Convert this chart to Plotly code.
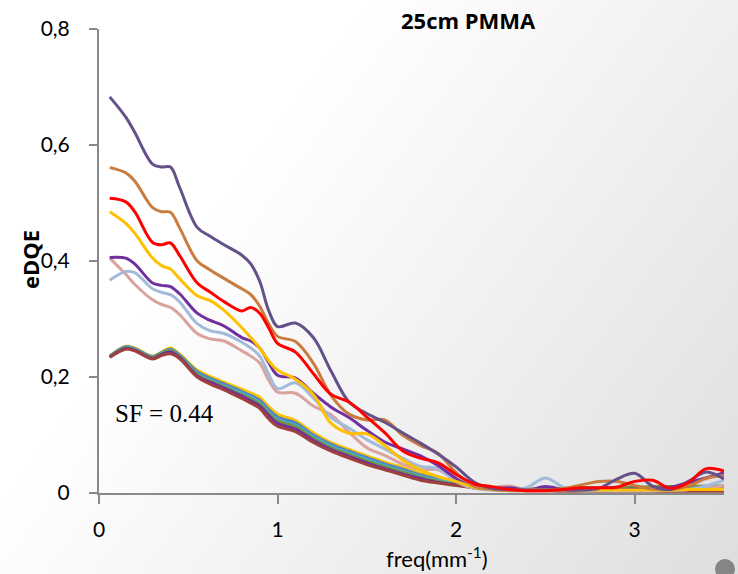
import base64
import plotly.graph_objects as go

# ---------------- data ----------------
freq = [0.06, 0.15, 0.2, 0.3, 0.35, 0.4, 0.45, 0.55, 0.62, 0.7, 0.8, 0.85, 0.9, 0.95,
        1.0, 1.1, 1.2, 1.3, 1.4, 1.5, 1.6, 1.7, 1.8, 1.9, 2.0, 2.1, 2.2, 2.3, 2.4, 2.5,
        2.6, 2.7, 2.8, 2.9, 3.0, 3.1, 3.2, 3.3, 3.4, 3.5]

# lower group (nearly identical curves)
low_yellow = [0.236, 0.253, 0.250, 0.236, 0.243, 0.250, 0.240, 0.212, 0.201, 0.191, 0.179, 0.172, 0.165, 0.149,
              0.136, 0.125, 0.104, 0.087, 0.075, 0.064, 0.053, 0.044, 0.034, 0.026, 0.019, 0.014, 0.010, 0.008,
              0.007, 0.006, 0.006, 0.006, 0.006, 0.006, 0.006, 0.006, 0.006, 0.006, 0.006, 0.006]
low_blue = [0.236, 0.252, 0.249, 0.235, 0.242, 0.248, 0.238, 0.209, 0.198, 0.188, 0.175, 0.168, 0.160, 0.144,
            0.131, 0.121, 0.100, 0.084, 0.072, 0.061, 0.050, 0.041, 0.031, 0.024, 0.017, 0.012, 0.009, 0.007,
            0.006, 0.006, 0.006, 0.006, 0.006, 0.006, 0.006, 0.006, 0.006, 0.006, 0.007, 0.007]
low_teal = [0.235, 0.251, 0.248, 0.234, 0.241, 0.246, 0.236, 0.206, 0.195, 0.185, 0.172, 0.165, 0.156, 0.140,
            0.127, 0.117, 0.097, 0.081, 0.069, 0.058, 0.047, 0.038, 0.029, 0.022, 0.016, 0.011, 0.008, 0.007,
            0.006, 0.006, 0.007, 0.007, 0.007, 0.008, 0.008, 0.008, 0.008, 0.008, 0.009, 0.009]
low_green = [0.235, 0.250, 0.247, 0.233, 0.240, 0.245, 0.235, 0.204, 0.193, 0.183, 0.169, 0.162, 0.153, 0.137,
             0.124, 0.114, 0.094, 0.078, 0.066, 0.055, 0.045, 0.036, 0.027, 0.020, 0.015, 0.010, 0.008, 0.007,
             0.007, 0.008, 0.008, 0.009, 0.009, 0.010, 0.010, 0.011, 0.011, 0.011, 0.012, 0.012]
low_purple = [0.234, 0.249, 0.246, 0.232, 0.239, 0.243, 0.234, 0.202, 0.191, 0.181, 0.167, 0.159, 0.150, 0.134,
              0.120, 0.110, 0.091, 0.075, 0.063, 0.052, 0.042, 0.033, 0.025, 0.018, 0.014, 0.009, 0.007, 0.006,
              0.005, 0.005, 0.005, 0.005, 0.005, 0.005, 0.005, 0.005, 0.005, 0.005, 0.005, 0.005]
low_darkred = [0.234, 0.248, 0.245, 0.231, 0.237, 0.240, 0.232, 0.200, 0.188, 0.178, 0.163, 0.155, 0.146, 0.128,
               0.115, 0.106, 0.087, 0.072, 0.060, 0.049, 0.040, 0.031, 0.022, 0.017, 0.013, 0.009, 0.007, 0.005,
               0.004, 0.004, 0.003, 0.003, 0.003, 0.003, 0.003, 0.003, 0.003, 0.003, 0.003, 0.003]

# upper group
up_pink = [0.405, 0.377, 0.360, 0.333, 0.325, 0.320, 0.308, 0.275, 0.266, 0.262, 0.245, 0.236, 0.224, 0.195,
           0.174, 0.172, 0.150, 0.135, 0.105, 0.078, 0.065, 0.050, 0.040, 0.040, 0.020, 0.008, 0.010, 0.012,
           0.005, 0.004, 0.004, 0.004, 0.004, 0.004, 0.004, 0.004, 0.005, 0.006, 0.009, 0.012]
up_lightblue = [0.367, 0.382, 0.380, 0.352, 0.346, 0.342, 0.330, 0.292, 0.280, 0.275, 0.260, 0.250, 0.236, 0.205,
                0.180, 0.190, 0.164, 0.130, 0.112, 0.092, 0.076, 0.060, 0.046, 0.042, 0.020, 0.008, 0.005, 0.005,
                0.010, 0.026, 0.010, 0.004, 0.004, 0.004, 0.004, 0.004, 0.005, 0.006, 0.012, 0.022]
up_purple = [0.406, 0.405, 0.395, 0.362, 0.358, 0.356, 0.344, 0.310, 0.298, 0.288, 0.268, 0.262, 0.250, 0.225,
             0.203, 0.198, 0.172, 0.148, 0.130, 0.108, 0.088, 0.076, 0.064, 0.047, 0.025, 0.010, 0.008, 0.009,
             0.005, 0.011, 0.006, 0.005, 0.006, 0.006, 0.007, 0.008, 0.010, 0.018, 0.026, 0.035]
up_yellow = [0.485, 0.465, 0.448, 0.405, 0.392, 0.386, 0.370, 0.340, 0.332, 0.315, 0.285, 0.268, 0.250, 0.228,
             0.212, 0.196, 0.170, 0.120, 0.103, 0.102, 0.082, 0.057, 0.040, 0.028, 0.020, 0.010, 0.006, 0.005,
             0.005, 0.005, 0.005, 0.005, 0.005, 0.005, 0.005, 0.005, 0.005, 0.006, 0.006, 0.006]
up_orange = [0.561, 0.552, 0.538, 0.492, 0.485, 0.484, 0.458, 0.400, 0.385, 0.370, 0.352, 0.342, 0.322, 0.292,
             0.270, 0.261, 0.224, 0.168, 0.136, 0.126, 0.126, 0.100, 0.082, 0.068, 0.035, 0.012, 0.006, 0.004,
             0.004, 0.005, 0.008, 0.014, 0.020, 0.020, 0.013, 0.007, 0.006, 0.012, 0.025, 0.030]
up_darkpurple = [0.683, 0.648, 0.622, 0.567, 0.562, 0.562, 0.528, 0.458, 0.443, 0.428, 0.410, 0.395, 0.365, 0.315,
                 0.287, 0.293, 0.268, 0.210, 0.157, 0.137, 0.122, 0.104, 0.086, 0.067, 0.045, 0.019, 0.008, 0.006,
                 0.005, 0.005, 0.005, 0.005, 0.008, 0.024, 0.034, 0.012, 0.006, 0.020, 0.036, 0.024]
up_red = [0.508, 0.502, 0.485, 0.432, 0.428, 0.431, 0.410, 0.362, 0.347, 0.330, 0.314, 0.320, 0.310, 0.285,
          0.258, 0.243, 0.206, 0.170, 0.157, 0.131, 0.104, 0.073, 0.060, 0.052, 0.032, 0.016, 0.011, 0.006,
          0.004, 0.004, 0.006, 0.009, 0.009, 0.010, 0.020, 0.022, 0.008, 0.018, 0.042, 0.038]

x_ticks = [0, 1, 2, 3]
y_ticks = [0, 0.2, 0.4, 0.6, 0.8]
y_ticktext = ["0", "0,2", "0,4", "0,6", "0,8"]

series = [
    (low_yellow, "#FFC000", 3),
    (low_blue, "#4F81BD", 3),
    (low_teal, "#4BACC6", 3),
    (low_green, "#77933C", 3),
    (low_purple, "#7030A0", 3),
    (low_darkred, "#A0403C", 3),
    (up_pink, "#D9A3A0", 3),
    (up_lightblue, "#A3BADB", 3),
    (up_purple, "#7030A0", 3),
    (up_yellow, "#FFC000", 3),
    (up_orange, "#C87C3E", 3),
    (up_darkpurple, "#65518A", 3),
    (up_red, "#FF0000", 3),
]

# ---------------- layout geometry ----------------
W, H = 738, 574
ML, MR, MT, MB = 99, 14, 29, 81
PW, PH = W - ML - MR, H - MT - MB


def px_x(p):
    return (p - ML) / PW


def px_y(p):
    return (H - MB - p) / PH


fig = go.Figure()
for ys, col, w in series:
    fig.add_trace(go.Scatter(x=freq, y=ys, mode="lines",
                             line=dict(color=col, width=w, shape="spline", smoothing=1.0),
                             hoverinfo="skip", showlegend=False))

svg = ('<svg xmlns="http://www.w3.org/2000/svg" width="738" height="574" preserveAspectRatio="none">'
       '<defs><linearGradient id="g" x1="0.377" y1="0.215" x2="1.185" y2="0.677">'
       '<stop offset="0" stop-color="#ffffff"/><stop offset="1" stop-color="#dedede"/>'
       '</linearGradient></defs><rect width="738" height="574" fill="url(#g)"/></svg>')
src = "data:image/svg+xml;base64," + base64.b64encode(svg.encode()).decode()

axis_col = "#898989"
fig.update_layout(
    width=W, height=H,
    margin=dict(l=ML, r=MR, t=MT, b=MB),
    paper_bgcolor="white",
    plot_bgcolor="rgba(0,0,0,0)",
    showlegend=False,
    images=[dict(source=src, xref="paper", yref="paper",
                 x=px_x(0), y=px_y(0), sizex=W / PW, sizey=H / PH,
                 xanchor="left", yanchor="top", sizing="stretch", layer="below")],
    xaxis=dict(range=[0, 3.5], tickvals=x_ticks, ticks="outside", ticklen=9, tickwidth=2,
               tickcolor=axis_col, showline=True, linecolor=axis_col, linewidth=2,
               showgrid=False, zeroline=False, ticklabelstandoff=8,
               tickfont=dict(family="Lato, Open Sans, sans-serif", size=21, color="black")),
    yaxis=dict(range=[0, 0.8], tickvals=y_ticks, ticktext=y_ticktext, ticks="outside", ticklen=8,
               tickwidth=2, tickcolor=axis_col, showline=True, linecolor=axis_col, linewidth=2,
               showgrid=False, zeroline=False, ticklabelstandoff=15,
               tickfont=dict(family="Lato, Open Sans, sans-serif", size=21, color="black")),
    shapes=[dict(type="circle", xref="paper", yref="paper",
                 x0=px_x(715), x1=px_x(735), y0=px_y(579), y1=px_y(559),
                 fillcolor="#858585", line=dict(width=0))],
    annotations=[
        dict(text="<b>25cm PMMA</b>", xref="paper", yref="paper", x=px_x(468), y=px_y(20),
             showarrow=False, xanchor="center", yanchor="middle",
             font=dict(family="Open Sans, sans-serif", size=22, color="black")),
        dict(text="<b>eDQE</b>", xref="paper", yref="paper", x=px_x(30), y=px_y(260),
             showarrow=False, xanchor="center", yanchor="middle", textangle=-90,
             font=dict(family="Open Sans, sans-serif", size=22, color="black")),
        dict(text="freq(mm<sup>-1</sup>)", xref="paper", yref="paper", x=px_x(437), y=px_y(557),
             showarrow=False, xanchor="center", yanchor="middle",
             font=dict(family="Lato, Open Sans, sans-serif", size=22, color="black")),
        dict(text="SF = 0.44", xref="paper", yref="paper", x=px_x(113), y=px_y(413),
             showarrow=False, xanchor="left", yanchor="middle",
             font=dict(family="Liberation Serif, DejaVu Serif, serif", size=25, color="black")),
    ],
)

fig.write_html("out.html")
